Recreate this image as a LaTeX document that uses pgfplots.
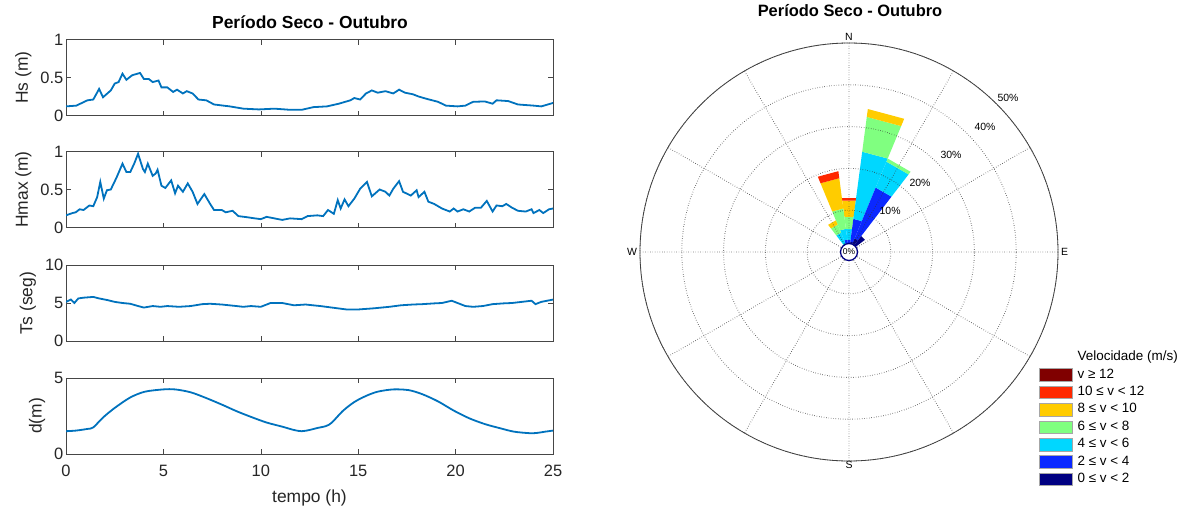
\documentclass[border=0pt]{standalone}
\usepackage{fontspec}
\setmainfont{Liberation Sans}
\usepackage{pgfplots}
\pgfplotsset{compat=1.18}
\usepgfplotslibrary{polar}
\definecolor{mblue}{RGB}{0,114,189}
\definecolor{axgray}{RGB}{70,70,70}
\definecolor{txtgray}{RGB}{38,38,38}
\definecolor{cDR}{RGB}{128,0,0}
\definecolor{cR}{RGB}{255,40,0}
\definecolor{cY}{RGB}{255,204,0}
\definecolor{cG}{RGB}{128,255,128}
\definecolor{cC}{RGB}{0,215,255}
\definecolor{cB}{RGB}{10,40,255}
\definecolor{cN}{RGB}{0,0,130}
\pgfplotsset{
  leftpanel/.style={
    scale only axis, width=487bp, height=76bp,
    xmin=0, xmax=25, xtick={0,5,...,25},
    tick align=inside, xtick pos=both, ytick pos=both,
    major tick length=5bp,
    axis line style={axgray, line width=0.6bp},
    every tick/.style={axgray, line width=0.6bp},
    tick label style={font=\fontsize{16.5}{19}\selectfont, text=txtgray, inner sep=2.5bp},
    label style={font=\fontsize{17.5}{20}\selectfont, text=txtgray},
    ylabel style={yshift=3bp},
    /pgf/number format/assume math mode=true,
    xticklabels={},
  },
}
\begin{document}
\begin{tikzpicture}
\useasboundingbox (0,0) rectangle (1187bp,-517bp);
\node[font=\bfseries\fontsize{17.5}{20}\selectfont] at (310bp,-22bp) {Período Seco - Outubro};
% ---------- Hs
\begin{axis}[leftpanel, at={(66bp,-39.5bp)}, anchor=north west,
  ymin=0, ymax=1, ytick={0,0.5,1}, yticklabels={0,0.5,1}, ylabel={Hs (m)}]
\addplot[mblue, line width=1.8bp] table {
0 0.12
0.53 0.13
1.1 0.2
1.4 0.21
1.7 0.35
1.9 0.24
2.3 0.33
2.5 0.42
2.7 0.44
2.9 0.55
3.1 0.47
3.4 0.53
3.8 0.56
4.0 0.48
4.25 0.48
4.45 0.44
4.75 0.46
4.9 0.37
5.2 0.37
5.5 0.31
5.7 0.34
6.0 0.29
6.2 0.32
6.5 0.29
6.8 0.21
7.2 0.2
7.6 0.145
8.4 0.12
9.1 0.09
9.9 0.08
10.7 0.09
11.5 0.075
12.1 0.075
12.7 0.11
13.4 0.12
14.0 0.155
14.6 0.2
14.8 0.23
15.1 0.21
15.4 0.29
15.7 0.33
16.0 0.3
16.4 0.32
16.8 0.29
17.1 0.34
17.4 0.3
17.8 0.28
18.1 0.25
18.5 0.22
19.1 0.18
19.5 0.13
20.1 0.12
20.5 0.13
20.9 0.18
21.5 0.185
21.9 0.155
22.1 0.2
22.7 0.19
23.2 0.145
24.0 0.13
24.4 0.12
25 0.165
};
\end{axis}
% ---------- Hmax
\begin{axis}[leftpanel, at={(66bp,-151.5bp)}, anchor=north west,
  ymin=0, ymax=1, ytick={0,0.5,1}, yticklabels={0,0.5,1}, ylabel={Hmax (m)}]
\addplot[mblue, line width=1.8bp] table {
0 0.16
0.33 0.19
0.5 0.2
0.7 0.24
0.9 0.23
1.2 0.29
1.4 0.28
1.6 0.4
1.76 0.6
1.94 0.38
2.1 0.49
2.3 0.5
2.6 0.66
2.9 0.84
3.1 0.73
3.3 0.73
3.5 0.84
3.7 0.97
3.95 0.77
4.05 0.73
4.2 0.84
4.45 0.68
4.6 0.71
4.7 0.76
4.9 0.55
5.1 0.52
5.4 0.62
5.6 0.45
5.75 0.55
6.0 0.47
6.25 0.58
6.5 0.47
6.75 0.31
7.1 0.44
7.4 0.31
7.6 0.23
8.0 0.23
8.2 0.2
8.55 0.22
8.85 0.15
9.3 0.135
9.7 0.12
10.0 0.11
10.3 0.14
10.7 0.12
11.1 0.1
11.5 0.12
12.1 0.11
12.4 0.15
12.9 0.16
13.2 0.15
13.45 0.23
13.75 0.18
13.95 0.36
14.1 0.25
14.3 0.37
14.5 0.28
14.8 0.38
15.1 0.51
15.45 0.6
15.7 0.41
16.1 0.5
16.4 0.47
16.6 0.42
16.8 0.51
17.1 0.61
17.3 0.47
17.7 0.42
18.0 0.49
18.1 0.4
18.4 0.47
18.6 0.34
18.9 0.31
19.3 0.25
19.7 0.21
19.9 0.25
20.1 0.21
20.4 0.24
20.7 0.21
21.0 0.26
21.3 0.26
21.5 0.32
21.6 0.35
21.9 0.21
22.1 0.29
22.4 0.28
22.6 0.31
22.9 0.26
23.2 0.22
23.6 0.21
23.9 0.24
24.0 0.19
24.3 0.23
24.5 0.19
24.8 0.24
25 0.25
};
\end{axis}
% ---------- Ts
\begin{axis}[leftpanel, at={(66bp,-265bp)}, anchor=north west,
  ymin=0, ymax=10, ytick={0,5,10}, ylabel={Ts (seg)}]
\addplot[mblue, line width=1.8bp] table {
0 5.15
0.25 5.46
0.43 5.0
0.63 5.6
0.9 5.7
1.4 5.8
1.7 5.6
2.1 5.4
2.5 5.15
2.9 5.0
3.3 4.9
3.7 4.6
4.0 4.4
4.45 4.6
4.85 4.5
5.2 4.6
5.8 4.5
6.4 4.6
7.0 4.85
7.4 4.9
8.0 4.8
8.75 4.6
9.1 4.5
9.5 4.6
10.0 4.5
10.5 5.0
11.1 5.0
11.7 4.7
12.3 4.8
13.05 4.6
13.8 4.35
14.4 4.15
15.0 4.15
15.8 4.3
16.6 4.5
17.2 4.7
17.8 4.8
18.3 4.85
18.9 4.95
19.3 5.0
19.8 5.3
20.1 5.0
20.5 4.6
20.9 4.5
21.4 4.6
21.9 4.85
22.45 4.95
22.9 5.0
23.4 5.15
23.9 5.3
24.1 4.85
24.4 5.15
24.7 5.3
25 5.45
};
\end{axis}
% ---------- d
\begin{axis}[leftpanel, at={(66bp,-378bp)}, anchor=north west,
  ymin=0, ymax=5, ytick={0,5}, ylabel={d(m)},
  xticklabels={0,5,10,15,20,25}, xlabel={tempo (h)},
  xticklabel style={yshift=-8bp}, xlabel style={yshift=-8bp}]
\addplot[mblue, line width=1.8bp, smooth, tension=0.5] table {
0 1.5
0.5 1.54
1.1 1.65
1.4 1.75
1.9 2.4
2.5 3.03
3.3 3.72
4.05 4.1
5.0 4.25
5.6 4.25
6.4 4.06
7.2 3.68
8.0 3.25
8.75 2.82
9.5 2.44
10.3 2.07
11.1 1.8
11.7 1.58
12.1 1.5
12.5 1.58
12.9 1.71
13.35 1.84
13.65 2.07
14.2 2.82
14.8 3.42
15.4 3.82
16.0 4.1
16.8 4.25
17.6 4.2
18.3 3.93
19.1 3.46
19.9 2.86
20.7 2.35
21.5 1.97
22.3 1.69
23.0 1.47
23.8 1.37
24.2 1.39
24.6 1.47
25 1.54
};
\end{axis}
% ---------- wind rose
\node[font=\bfseries\fontsize{16.5}{19}\selectfont] at (850bp,-11bp) {Período Seco - Outubro};
\begin{polaraxis}[at={(849bp,-252bp)}, anchor=center, scale only axis,
  width=418bp, height=418bp, ymin=0, ymax=50,
  xtick={0,30,...,330}, ytick={10,20,30,40,50},
  xticklabels={}, yticklabels={}, major tick length=0pt,
  axis on top, xmajorgrids, ymajorgrids,
  major grid style={dotted, black!80, line width=0.9bp},
  x axis line style={black!75, line width=0.8bp},
  y axis line style={draw=none},
  clip=false]
% bar compass 0 (math 97.5..82.5)
\addplot[fill=cN, draw=none] coordinates {(97.5,0) (97.5,1) (82.5,1) (82.5,0)};
\addplot[fill=cB, draw=none] coordinates {(97.5,1) (97.5,2.9) (82.5,2.9) (82.5,1)};
\addplot[fill=cC, draw=none] coordinates {(97.5,2.9) (97.5,5.5) (82.5,5.5) (82.5,2.9)};
\addplot[fill=cG, draw=none] coordinates {(97.5,5.5) (97.5,8.5) (82.5,8.5) (82.5,5.5)};
\addplot[fill=cY, draw=none] coordinates {(97.5,8.5) (97.5,12.4) (82.5,12.4) (82.5,8.5)};
\addplot[fill=cR, draw=none] coordinates {(97.5,12.4) (97.5,13.0) (82.5,13.0) (82.5,12.4)};
% bar compass 15 (math 82.5..67.5)
\addplot[fill=cN, draw=none] coordinates {(82.5,0) (82.5,2.5) (67.5,2.5) (67.5,0)};
\addplot[fill=cB, draw=none] coordinates {(82.5,2.5) (82.5,8) (67.5,8) (67.5,2.5)};
\addplot[fill=cC, draw=none] coordinates {(82.5,8) (82.5,24.2) (67.5,24.2) (67.5,8)};
\addplot[fill=cG, draw=none] coordinates {(82.5,24.2) (82.5,32.6) (67.5,32.6) (67.5,24.2)};
\addplot[fill=cY, draw=none] coordinates {(82.5,32.6) (82.5,34.5) (67.5,34.5) (67.5,32.6)};
% bar compass 30 (math 67.5..52.5)
\addplot[fill=cN, draw=none] coordinates {(67.5,0) (67.5,3.5) (52.5,3.5) (52.5,0)};
\addplot[fill=cB, draw=none] coordinates {(67.5,3.5) (67.5,16.7) (52.5,16.7) (52.5,3.5)};
\addplot[fill=cC, draw=none] coordinates {(67.5,16.7) (67.5,23.4) (52.5,23.4) (52.5,16.7)};
\addplot[fill=cG, draw=none] coordinates {(67.5,23.4) (67.5,24.2) (52.5,24.2) (52.5,23.4)};
% bar compass 45 (math 52.5..37.5)
\addplot[fill=cN, draw=none] coordinates {(52.5,0) (52.5,4.8) (37.5,4.8) (37.5,0)};
% bar compass -15 (math 112.5..97.5)
\addplot[fill=cN, draw=none] coordinates {(112.5,0) (112.5,1) (97.5,1) (97.5,0)};
\addplot[fill=cB, draw=none] coordinates {(112.5,1) (112.5,3) (97.5,3) (97.5,1)};
\addplot[fill=cC, draw=none] coordinates {(112.5,3) (112.5,5.6) (97.5,5.6) (97.5,3)};
\addplot[fill=cG, draw=none] coordinates {(112.5,5.6) (112.5,10.5) (97.5,10.5) (97.5,5.6)};
\addplot[fill=cY, draw=none] coordinates {(112.5,10.5) (112.5,17.8) (97.5,17.8) (97.5,10.5)};
\addplot[fill=cR, draw=none] coordinates {(112.5,17.8) (112.5,19.5) (97.5,19.5) (97.5,17.8)};
% bar compass -30 (math 127.5..112.5)
\addplot[fill=cN, draw=none] coordinates {(127.5,0) (127.5,0.5) (112.5,0.5) (112.5,0)};
\addplot[fill=cB, draw=none] coordinates {(127.5,0.5) (127.5,2) (112.5,2) (112.5,0.5)};
\addplot[fill=cC, draw=none] coordinates {(127.5,2) (127.5,5.0) (112.5,5.0) (112.5,2)};
\addplot[fill=cG, draw=none] coordinates {(127.5,5.0) (127.5,7.1) (112.5,7.1) (112.5,5.0)};
\addplot[fill=cY, draw=none] coordinates {(127.5,7.1) (127.5,8.2) (112.5,8.2) (112.5,7.1)};
% labels
\node[font=\fontsize{10.5}{12}\selectfont] at (axis cs:90,51.4) {N};
\node[font=\fontsize{10.5}{12}\selectfont] at (axis cs:0,51.6) {E};
\node[font=\fontsize{10.5}{12}\selectfont] at (axis cs:270,50.9) {S};
\node[font=\fontsize{10.5}{12}\selectfont] at (axis cs:180,51.9) {W};
\node[font=\fontsize{10.5}{12}\selectfont] at (axis cs:45,13.9) {10\%};
\node[font=\fontsize{10.5}{12}\selectfont] at (axis cs:44.2,23.7) {20\%};
\node[font=\fontsize{10.5}{12}\selectfont] at (axis cs:43.6,33.7) {30\%};
\node[font=\fontsize{10.5}{12}\selectfont] at (axis cs:42.6,44.2) {40\%};
\node[font=\fontsize{10.5}{12}\selectfont] at (axis cs:44,52.9) {50\%};
\end{polaraxis}
\begin{polaraxis}[at={(849bp,-252bp)}, anchor=center, scale only axis,
  width=418bp, height=418bp, ymin=0, ymax=50, hide axis, clip=false]
\addplot[only marks, mark=*, mark size=8.5bp, mark options={fill=white, draw=cN, line width=1.3bp}] coordinates {(0,0)};
\coordinate (ctr) at (axis cs:0,0);
\end{polaraxis}
\node[font=\fontsize{8.5}{10}\selectfont, inner sep=0pt] at (ctr) {0\%};
% ---------- legend (hidden Cartesian axis)
\begin{axis}[at={(1039bp,-348.5bp)}, anchor=north west, scale only axis,
  width=10bp, height=10bp, xmin=0, xmax=1, ymin=0, ymax=1, hide axis,
  legend style={at={(0,1)}, anchor=north west, draw=none, fill=none,
    inner sep=0pt, font=\fontsize{13.5}{15}\selectfont,
    nodes={inner sep=2bp, text height=10bp, text depth=3.4bp}, row sep=0pt,
    /tikz/every odd column/.append style={column sep=3bp}},
  legend cell align=left]
\addlegendimage{empty legend}\addlegendentry{Velocidade (m/s)}
\addlegendimage{legend image code/.code={\draw[fill=cDR, draw=black!35, line width=0.4bp] (0bp,-6.3bp) rectangle (33bp,6.3bp);}}\addlegendentry{v ≥ 12}
\addlegendimage{legend image code/.code={\draw[fill=cR, draw=black!35, line width=0.4bp] (0bp,-6.3bp) rectangle (33bp,6.3bp);}}\addlegendentry{10 ≤ v < 12}
\addlegendimage{legend image code/.code={\draw[fill=cY, draw=black!35, line width=0.4bp] (0bp,-6.3bp) rectangle (33bp,6.3bp);}}\addlegendentry{8 ≤ v < 10}
\addlegendimage{legend image code/.code={\draw[fill=cG, draw=black!35, line width=0.4bp] (0bp,-6.3bp) rectangle (33bp,6.3bp);}}\addlegendentry{6 ≤ v < 8}
\addlegendimage{legend image code/.code={\draw[fill=cC, draw=black!35, line width=0.4bp] (0bp,-6.3bp) rectangle (33bp,6.3bp);}}\addlegendentry{4 ≤ v < 6}
\addlegendimage{legend image code/.code={\draw[fill=cB, draw=black!35, line width=0.4bp] (0bp,-6.3bp) rectangle (33bp,6.3bp);}}\addlegendentry{2 ≤ v < 4}
\addlegendimage{legend image code/.code={\draw[fill=cN, draw=black!35, line width=0.4bp] (0bp,-6.3bp) rectangle (33bp,6.3bp);}}\addlegendentry{0 ≤ v < 2}
\end{axis}
\end{tikzpicture}
\end{document}
